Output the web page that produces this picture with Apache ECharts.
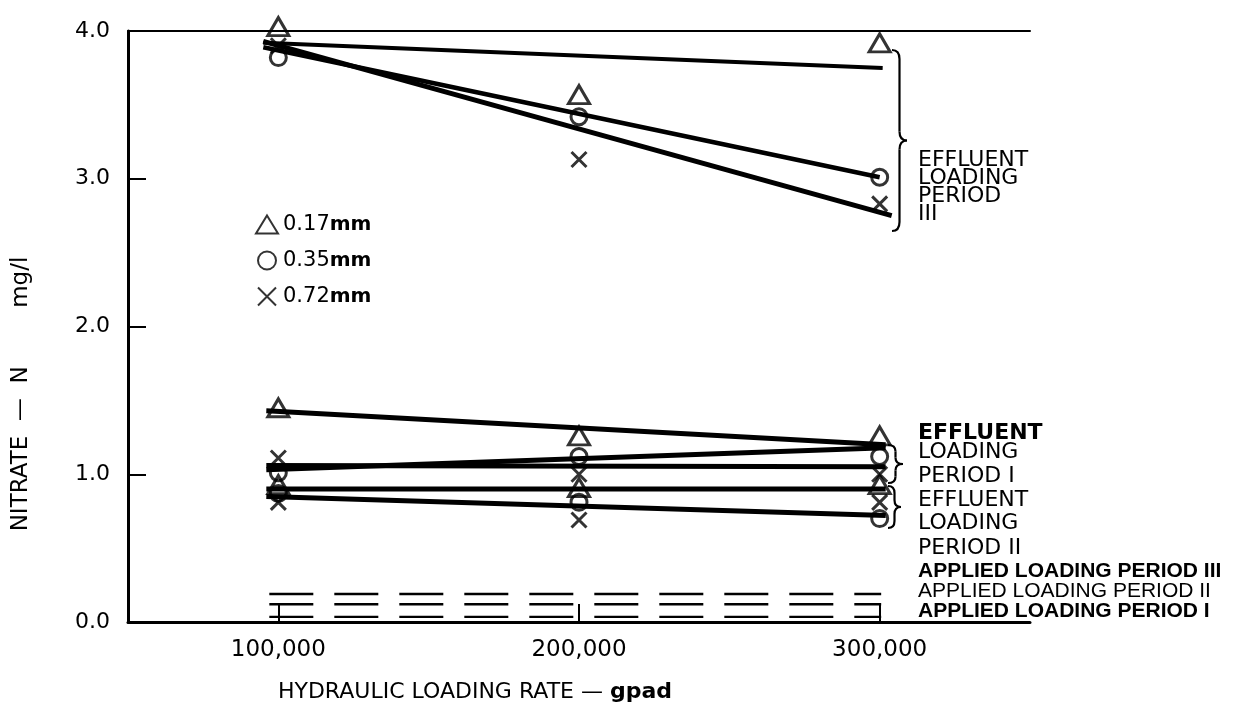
<!DOCTYPE html>
<html>
<head>
<meta charset="utf-8">
<title>Nitrate-N vs hydraulic loading rate</title>
<script src="https://cdn.jsdelivr.net/npm/echarts@6/dist/echarts.min.js"></script>
<style>
  html, body { margin: 0; padding: 0; background: #fff; }
  #chart { width: 1243px; height: 708px; }
</style>
</head>
<body>
<div id="chart"></div>
<script>
// Hydraulic loading rates (gpad) at which samples were taken
const loadingRates = [100000, 200000, 300000];
const xTickValues = [100000, 200000, 300000];
const yTickValues = [1, 2, 3];

// Observed effluent nitrate-N (mg/l), loading period III
const periodIII_017 = [4.03, 3.57, 3.92];
const periodIII_035 = [3.82, 3.42, 3.01];
const periodIII_072 = [3.90, 3.13, 2.83];

// Observed effluent nitrate-N (mg/l), loading period I
const periodI_017 = [1.45, 1.26, 1.26];
const periodI_035 = [1.01, 1.12, 1.12];
const periodI_072 = [1.11, 1.00, 1.00];

// Observed effluent nitrate-N (mg/l), loading period II
const periodII_017 = [0.93, 0.91, 0.93];
const periodII_035 = [0.87, 0.81, 0.70];
const periodII_072 = [0.81, 0.69, 0.81];

// Fitted trend lines, [rate, nitrate] end points
const fitIII_017 = [[95000, 3.92], [301000, 3.75]];
const fitIII_035 = [[95000, 3.89], [300000, 3.01]];
const fitIII_072 = [[95000, 3.93], [304000, 2.75]];
const fitI_017 = [[96000, 1.43], [302000, 1.20]];
const fitI_035 = [[96000, 1.03], [302000, 1.18]];
const fitI_072 = [[96000, 1.06], [302000, 1.05]];
const fitII_flat = [[96000, 0.90], [302000, 0.90]];
const fitII_fall = [[96000, 0.85], [302000, 0.72]];

// Applied nitrate-N levels for each loading period
const appliedRange = [97000, 300500];
const appliedIII = 0.19;
const appliedII = 0.12;
const appliedI = 0.035;

const sizeNames = ['0.17mm', '0.35mm', '0.72mm'];

const FONT = 'DejaVu Sans';
const NARROW = 'Liberation Sans';
const INK = '#000';

const crossPath = 'path://M0,0L10,10M10,0L0,10';
const symbols = {
  '0.17mm': { symbol: 'triangle', size: [21, 18] },
  '0.35mm': { symbol: 'circle', size: 16 },
  '0.72mm': { symbol: crossPath, size: 15 }
};

function pairs(values) {
  return loadingRates.map((x, i) => [x, values[i]]);
}

function scatter(name, values) {
  const s = symbols[name];
  return {
    type: 'scatter',
    name: name,
    data: pairs(values),
    symbol: s.symbol,
    symbolSize: s.size,
    clip: false,
    z: 5,
    itemStyle: { color: 'rgba(0,0,0,0)', borderColor: INK, borderWidth: 3 },
    emphasis: { disabled: true }
  };
}

function fitLine(name, data, width) {
  return {
    type: 'line',
    name: name,
    data: data,
    symbol: 'none',
    clip: false,
    z: 3,
    lineStyle: { color: INK, width: width || 5 },
    emphasis: { disabled: true }
  };
}

function appliedLine(name, level) {
  return {
    type: 'line',
    name: name,
    data: [[appliedRange[0], level], [appliedRange[1], level]],
    symbol: 'none',
    clip: false,
    z: 2,
    lineStyle: { color: INK, width: 2.4, type: [44, 21] },
    emphasis: { disabled: true }
  };
}

// Curly brace built from curves and straight strokes, tip pointing right
function braceShape(x, y1, y2, w) {
  const xm = x + w * 0.5, ym = (y1 + y2) / 2, r = Math.min(9, (y2 - y1) / 6);
  const st = { stroke: INK, lineWidth: 2.2, fill: null };
  const curve = (ax, ay, cx, cy, bx, by) => ({
    type: 'bezierCurve', silent: true,
    shape: { x1: ax, y1: ay, cpx1: cx, cpy1: cy, x2: bx, y2: by },
    style: st
  });
  const seg = (ax, ay, bx, by) => ({
    type: 'line', silent: true,
    shape: { x1: ax, y1: ay, x2: bx, y2: by },
    style: st
  });
  return {
    type: 'group',
    silent: true,
    children: [
      curve(x, y1, xm, y1, xm, y1 + r),
      seg(xm, y1 + r, xm, ym - r),
      curve(xm, ym - r, xm, ym, x + w, ym),
      curve(x + w, ym, xm, ym, xm, ym + r),
      seg(xm, ym + r, xm, y2 - r),
      curve(xm, y2 - r, xm, y2, x, y2)
    ]
  };
}

function label(text, x, y, size, weight, family) {
  return {
    type: 'text',
    x: x, y: y,
    silent: true,
    style: {
      text: text, fill: INK, fontFamily: family || FONT,
      fontSize: size || 20, fontWeight: weight || 'normal',
      verticalAlign: 'middle', align: 'left'
    }
  };
}

const chart = echarts.init(document.getElementById('chart'));

chart.setOption({
  animation: false,
  backgroundColor: '#fff',
  textStyle: { fontFamily: FONT, color: INK },
  grid: { left: 128, right: 213, top: 31, bottom: 78, containLabel: false },
  legend: {
    data: sizeNames,
    orient: 'vertical',
    left: 250,
    top: 209,
    itemWidth: 22,
    itemHeight: 18,
    itemGap: 15,
    selectedMode: false,
    formatter: name => name.replace('mm', '{b|mm}'),
    textStyle: {
      fontFamily: FONT, fontSize: 21, color: INK,
      rich: { b: { fontFamily: FONT, fontSize: 20, fontWeight: 'bold', color: INK } }
    }
  },
  xAxis: [
    {
      type: 'value',
      position: 'bottom',
      min: 50000,
      max: 350000,
      name: 'HYDRAULIC LOADING RATE — {b|gpad}',
      nameLocation: 'middle',
      nameGap: 59,
      nameTextStyle: {
        fontFamily: FONT, fontSize: 22, color: INK,
        padding: [0, 208, 0, 0],
        rich: { b: { fontFamily: FONT, fontSize: 22, fontWeight: 'bold', color: INK } }
      },
      axisLine: { show: true, onZero: false, lineStyle: { color: INK, width: 3 } },
      axisTick: { show: true, inside: true, length: 18, customValues: xTickValues, lineStyle: { color: INK, width: 2 } },
      axisLabel: {
        customValues: xTickValues,
        formatter: v => v.toLocaleString('en-US'),
        fontFamily: FONT, fontSize: 23, color: INK, margin: 17
      },
      splitLine: { show: false }
    },
    {
      type: 'value',
      position: 'top',
      min: 50000,
      max: 350000,
      axisLine: { show: true, onZero: false, lineStyle: { color: INK, width: 2 } },
      axisTick: { show: false },
      axisLabel: { show: false },
      splitLine: { show: false }
    }
  ],
  yAxis: {
    type: 'value',
    min: 0,
    max: 4,
    interval: 1,
    name: 'NITRATE  —  N        mg/l',
    nameLocation: 'middle',
    nameRotate: 90,
    nameGap: 95,
    nameTextStyle: { fontFamily: FONT, fontSize: 23, color: INK, padding: [0, 135, 0, 0] },
    axisLine: { show: true, onZero: false, lineStyle: { color: INK, width: 3 } },
    axisTick: { show: true, inside: true, length: 18, customValues: yTickValues, lineStyle: { color: INK, width: 2 } },
    axisLabel: {
      formatter: v => v.toFixed(1),
      fontFamily: FONT, fontSize: 22, color: INK, margin: 18
    },
    splitLine: { show: false }
  },
  series: [
    fitLine('fit III 0.17mm', fitIII_017, 4),
    fitLine('fit III 0.35mm', fitIII_035, 4.5),
    fitLine('fit III 0.72mm', fitIII_072, 5),
    fitLine('fit I 0.17mm', fitI_017),
    fitLine('fit I 0.35mm', fitI_035),
    fitLine('fit I 0.72mm', fitI_072),
    fitLine('fit II flat', fitII_flat),
    fitLine('fit II falling', fitII_fall),
    appliedLine('applied III', appliedIII),
    appliedLine('applied II', appliedII),
    appliedLine('applied I', appliedI),
    scatter('0.17mm', periodIII_017),
    scatter('0.35mm', periodIII_035),
    scatter('0.72mm', periodIII_072),
    scatter('0.17mm', periodI_017),
    scatter('0.35mm', periodI_035),
    scatter('0.72mm', periodI_072),
    scatter('0.17mm', periodII_017),
    scatter('0.35mm', periodII_035),
    scatter('0.72mm', periodII_072)
  ],
  graphic: [
    braceShape(892, 50, 231, 15),
    braceShape(888, 445, 483, 15),
    braceShape(888, 486, 528, 13),
    label('EFFLUENT', 918, 160, 22),
    label('LOADING', 918, 178, 22),
    label('PERIOD', 918, 196, 22),
    label('III', 918, 214, 22),
    label('EFFLUENT', 918, 433, 22, 'bold'),
    label('LOADING', 918, 452, 22),
    label('PERIOD I', 918, 476, 22),
    label('EFFLUENT', 918, 500, 22),
    label('LOADING', 918, 523, 22),
    label('PERIOD II', 918, 548, 22),
    label('APPLIED LOADING PERIOD III', 918, 571, 21, 'bold', NARROW),
    label('APPLIED LOADING PERIOD II', 918, 591, 21, 'normal', NARROW),
    label('APPLIED LOADING PERIOD I', 918, 611, 21, 'bold', NARROW)
  ]
});
</script>
</body>
</html>
